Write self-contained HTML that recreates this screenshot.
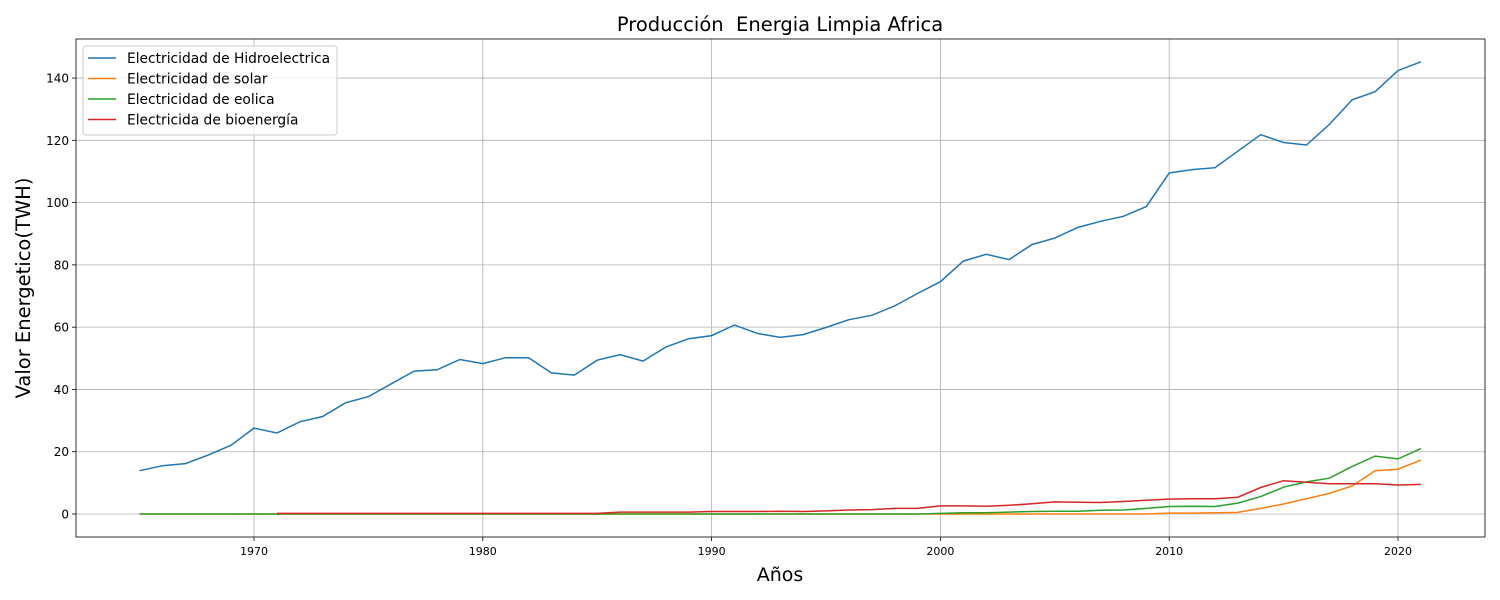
<!DOCTYPE html>
<html><head><meta charset="utf-8"><style>
body{margin:0;background:#fff;font-family:"DejaVu Sans","Liberation Sans",sans-serif}
svg{display:block}
text{white-space:pre}
</style></head><body>
<svg id="chart" width="1500" height="600" xmlns="http://www.w3.org/2000/svg" font-family="DejaVu Sans, Liberation Sans, sans-serif"></svg>
<script>
const years = [];
for (let y = 1965; y <= 2021; y++) years.push(y);
const hydro = [13.9,15.5,16.2,18.9,22.1,27.6,26.0,29.6,31.3,35.7,37.7,41.8,45.9,46.3,49.6,48.3,50.2,50.2,45.3,44.6,49.4,51.2,49.1,53.6,56.3,57.3,60.7,58.0,56.7,57.6,59.9,62.4,63.8,66.8,70.8,74.6,81.2,83.4,81.7,86.5,88.6,92.0,94.0,95.6,98.7,109.5,110.6,111.2,116.5,121.8,119.3,118.5,125.1,133.0,135.6,142.4,145.2];
const solar = [0,0,0,0,0,0,0,0,0,0,0,0,0,0,0,0,0,0,0,0,0,0,0,0,0,0,0,0,0,0,0,0,0,0,0,0,0,0,0,0,0,0,0,0,0,0.3,0.3,0.4,0.5,1.8,3.2,4.9,6.6,9.0,13.9,14.4,17.3];
const wind = [0,0,0,0,0,0,0,0,0,0,0,0,0,0,0,0,0,0,0,0,0,0,0,0,0,0,0,0,0,0,0,0,0,0,0,0.2,0.4,0.4,0.6,0.8,0.9,0.9,1.2,1.3,1.8,2.4,2.5,2.4,3.5,5.6,8.6,10.3,11.5,15.3,18.6,17.7,21.0];
const bio = [null,null,null,null,null,null,0.2,0.2,0.2,0.2,0.2,0.2,0.2,0.2,0.2,0.2,0.2,0.2,0.2,0.2,0.2,0.6,0.6,0.6,0.6,0.8,0.8,0.8,0.9,0.8,1.0,1.3,1.4,1.8,1.8,2.6,2.6,2.5,2.8,3.3,3.9,3.8,3.7,4.0,4.4,4.8,4.9,4.9,5.4,8.5,10.7,10.2,9.7,9.7,9.7,9.3,9.5];
const xTicks = [1970,1980,1990,2000,2010,2020];
const yTicks = [0,20,40,60,80,100,120,140];
const seriesNames = ["Electricidad de Hidroelectrica","Electricidad de solar","Electricidad de eolica","Electricida de bioenergía"];

const L=76,R=1485,T=39,B=537;
const x = v => 254 + (v-1970)*22.88;
const y = v => 514 - v*3.114;
const svg = document.getElementById('chart');
const NS='http://www.w3.org/2000/svg';
function el(tag, attrs, parent){const e=document.createElementNS(NS,tag);for(const k in attrs)e.setAttribute(k,attrs[k]);(parent||svg).appendChild(e);return e;}

xTicks.forEach(t=>{
  const g=el('line',{x1:x(t),x2:x(t),y1:T,y2:B,stroke:'#b0b0b0','stroke-width':0.8});
  
  
  el('line',{x1:x(t),x2:x(t),y1:B,y2:B+4,stroke:'#000','stroke-width':0.8});
  const tx=el('text',{x:x(t),y:B+18,'text-anchor':'middle','font-size':11});
  tx.textContent=t;
  
  
});
yTicks.forEach(t=>{
  const g=el('line',{x1:L,x2:R,y1:y(t),y2:y(t),stroke:'#b0b0b0','stroke-width':0.8});
  
  
  el('line',{x1:L-4,x2:L,y1:y(t),y2:y(t),stroke:'#000','stroke-width':0.8});
  const tx=el('text',{x:L-7,y:y(t)+4.5,'text-anchor':'end','font-size':12});
  tx.textContent=t;
  
  
});
const colors=['#1f77b4','#ff7f0e','#2ca02c','#d62728'];
[hydro,solar,wind,bio].forEach((s,i)=>{
  let d='';
  s.forEach((v,j)=>{ if(v===null)return; d+=(d?'L':'M')+x(years[j]).toFixed(1)+','+y(v).toFixed(1);});
  const p=el('path',{d,fill:'none',stroke:colors[i],'stroke-width':1.5});
  
  
});
const frame=el('rect',{x:L,y:T,width:R-L,height:B-T,fill:'none',stroke:'#000','stroke-width':0.8});



const lg=el('g',{});


el('rect',{x:83,y:46,width:254,height:89,rx:3,fill:'#fff','fill-opacity':0.8,stroke:'#ccc'},lg);
seriesNames.forEach((n,i)=>{
  const yy=58+i*20.5;
  el('line',{x1:88,x2:116,y1:yy,y2:yy,stroke:colors[i],'stroke-width':1.5},lg);
  const t=el('text',{x:127,y:yy+5,'font-size':13.8},lg);
  t.textContent=n;
  
  
});
const title=el('text',{x:780,y:31,'text-anchor':'middle','font-size':19.5});
title.textContent='Producción  Energia Limpia Africa';


const xl=el('text',{x:780,y:581,'text-anchor':'middle','font-size':19});
xl.textContent='Años';


const yl=el('text',{x:0,y:0,'text-anchor':'middle','font-size':19.5,transform:'translate(30,288) rotate(-90)'});
yl.textContent='Valor Energetico(TWH)';


</script>
</body></html>
